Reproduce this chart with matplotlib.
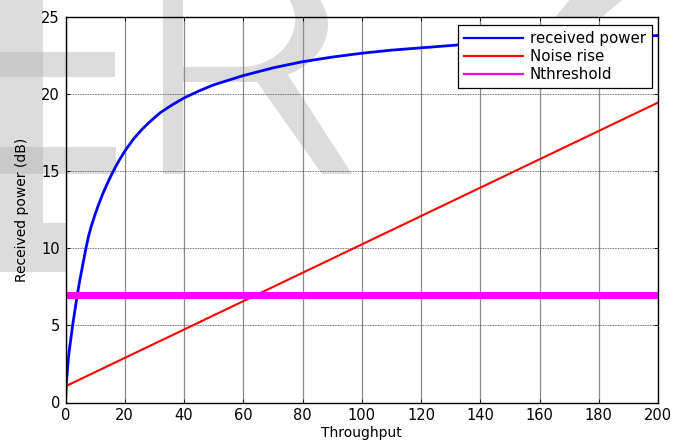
import numpy as np
import matplotlib
matplotlib.use("Agg")
import matplotlib.pyplot as plt
from matplotlib.patches import Polygon, Rectangle
from matplotlib.lines import Line2D
from matplotlib.transforms import Affine2D

# values
throughput_rp = [0, 0.2, 0.4, 0.7, 0.95, 1.3, 1.75, 2.4, 3.2, 4.0, 4.7, 5.5, 6.2,
                 6.9, 7.8, 8.8, 10, 11, 12.5, 14, 15.6, 17.5, 20, 23, 26, 29, 32,
                 36, 40, 45, 50, 55, 60, 65, 70, 75, 80, 90, 100, 110, 120, 130,
                 140, 150, 160, 170, 180, 190, 200]
power_rp = [0, 0.9, 1.5, 2.2, 2.8, 3.4, 4.05, 5.0, 6.0, 7.0, 7.8, 8.6, 9.3,
            10.0, 10.8, 11.5, 12.2, 12.75, 13.5, 14.15, 14.8, 15.5, 16.3, 17.1,
            17.75, 18.3, 18.8, 19.3, 19.75, 20.2, 20.6, 20.9, 21.2, 21.45, 21.7,
            21.9, 22.1, 22.4, 22.65, 22.85, 23.0, 23.15, 23.3, 23.4, 23.5,
            23.58, 23.65, 23.72, 23.8]
throughput_nr = [0, 100, 200]
noise_rise = [1.05, 10.25, 19.45]
throughput_th = [0, 200]
n_threshold = [7, 7]

labels = ["received power", "Noise rise", "Nthreshold"]
colors = ["#0000ff", "#ff0000", "#ff00ff"]

W, H = 675, 441
fig = plt.figure(figsize=(W / 100, H / 100), dpi=100)
ax = fig.add_axes([65.5 / W, 1 - 402.5 / H, 592.5 / W, 385.5 / H])

# pixel coordinates (top-left origin) for the watermark shapes
px = Affine2D().scale(1 / W, -1 / H).translate(0, 1) + fig.transFigure
light = "#dcdcdc"
dark = "#c9c9c9"

# watermark layer behind the axes
for shape in [Rectangle((-5, -5), 48, 277), Rectangle((-5, 223), 220, 49),
              Polygon([(572, -3), (626, -3), (598, 20), (553, 20)])]:
    shape.set(transform=px, facecolor=light, edgecolor="none", zorder=-1)
    fig.add_artist(shape)

# watermark letters over the axes background ("E" arms and "R")
t = np.linspace(np.pi / 2, -np.pi / 2, 40)
outer = [(183, -32)] + [(250 + 78 * np.cos(a), 25 - 57 * np.sin(a)) for a in t] + [(183, 82)]
inner = [(183, 67)] + [(240 + 55 * np.cos(a), 20 + 47 * np.sin(a)) for a in t] + [(183, -27)]
letter_shapes = [
    Rectangle((-30, 52), 145, 25),
    Rectangle((-30, 147), 146, 27),
    Rectangle((163, -40), 20, 214),
    Polygon(outer + inner),
    Polygon([(250, 72), (286, 72), (352, 174), (322, 174)]),
]
for shape in letter_shapes:
    shape.set(transform=px, facecolor=light, edgecolor="none", zorder=0.5,
              clip_on=False)
    ax.add_artist(shape)
for shape in [Rectangle((0, 52), 43, 25), Rectangle((0, 147), 43, 27)]:
    shape.set(transform=px, facecolor=dark, edgecolor="none", zorder=0.6,
              clip_on=False)
    ax.add_artist(shape)

ax.plot(throughput_rp, power_rp, color=colors[0], lw=2, zorder=3)
ax.plot(throughput_nr, noise_rise, color=colors[1], lw=1.5, zorder=3)
ax.plot(throughput_th, n_threshold, color=colors[2], lw=5, zorder=3,
        solid_capstyle="butt")

ax.set_xlim(0, 200)
ax.set_ylim(0, 25)
ax.set_xticks(range(0, 201, 20))
ax.set_yticks(range(0, 26, 5))

# MATLAB-like grid: vertical look solid grey, horizontal dotted
ax.xaxis.grid(True, color="#8a8a8a", lw=0.9, ls="-")
ax.yaxis.grid(True, color="#444444", lw=0.6, ls=(0, (1, 1)))
for gl in ax.get_xgridlines() + ax.get_ygridlines():
    gl.set_zorder(1.5)

ax.tick_params(direction="in", top=True, right=True, length=3, width=0.6,
               labelsize=10.5, pad=4)
for s in ax.spines.values():
    s.set_linewidth(1.0)
    s.set_zorder(4)

ax.set_xlabel("Throughput", fontsize=10)
ax.set_ylabel("Received power (dB)", fontsize=10)
ax.xaxis.set_label_coords(0.5, -0.062)
ax.yaxis.set_label_coords(-0.062, 0.5)

handles = [Line2D([], [], color=c, lw=1.6) for c in colors]
leg = ax.legend(handles, labels, loc="upper right",
                bbox_to_anchor=(0.9894, 0.9792), borderaxespad=0,
                fontsize=10.8, handlelength=3.9, handletextpad=0.45,
                borderpad=0.4, labelspacing=0.2, fancybox=False,
                framealpha=1, edgecolor="black")
leg.get_frame().set_linewidth(0.9)
leg.set_zorder(5)

fig.savefig("out.png", dpi=100)
